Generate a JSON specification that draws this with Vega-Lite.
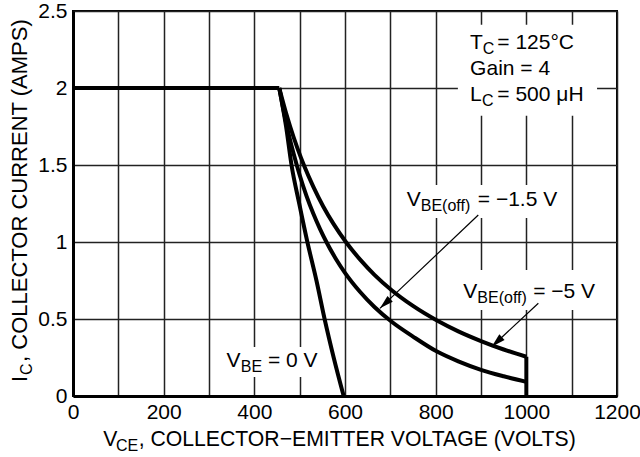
{
  "$schema": "https://vega.github.io/schema/vega-lite/v6.json",
  "width": 544,
  "height": 385,
  "autosize": "none",
  "padding": {"left": 73, "top": 11, "right": 23, "bottom": 61},
  "background": "white",
  "config": {
    "font": "Liberation Sans",
    "view": {"stroke": "black", "strokeWidth": 2},
    "axis": {
      "grid": true, "gridColor": "#222", "gridWidth": 1.5, "gridOpacity": 1,
      "domainColor": "black", "domainWidth": 3, "ticks": false,
      "labelFont": "Liberation Sans", "labelFontSize": 21, "labelColor": "black",
      "labelPadding": 5, "labelOverlap": false, "labelFlush": false, "labelBound": false
    }
  },
  "datasets": {
    "curves": [
      {"s": "limit", "v": 0, "i": 2}, {"s": "limit", "v": 455, "i": 2},
      {"s": "vbe0", "v": 455, "i": 2}, {"s": "vbe0", "v": 470, "i": 1.75}, {"s": "vbe0", "v": 482, "i": 1.5},
      {"s": "vbe0", "v": 499, "i": 1.25}, {"s": "vbe0", "v": 517, "i": 1.0}, {"s": "vbe0", "v": 537, "i": 0.75},
      {"s": "vbe0", "v": 555, "i": 0.5}, {"s": "vbe0", "v": 575, "i": 0.25}, {"s": "vbe0", "v": 597, "i": 0},
      {"s": "m15", "v": 455, "i": 2}, {"s": "m15", "v": 465, "i": 1.847}, {"s": "m15", "v": 475, "i": 1.71},
      {"s": "m15", "v": 487, "i": 1.57}, {"s": "m15", "v": 500, "i": 1.435}, {"s": "m15", "v": 515, "i": 1.3},
      {"s": "m15", "v": 530, "i": 1.185}, {"s": "m15", "v": 545, "i": 1.084}, {"s": "m15", "v": 559, "i": 1.0},
      {"s": "m15", "v": 580, "i": 0.89}, {"s": "m15", "v": 600, "i": 0.8}, {"s": "m15", "v": 633, "i": 0.677},
      {"s": "m15", "v": 665, "i": 0.578}, {"s": "m15", "v": 703, "i": 0.482}, {"s": "m15", "v": 750, "i": 0.386},
      {"s": "m15", "v": 802, "i": 0.29}, {"s": "m15", "v": 850, "i": 0.225}, {"s": "m15", "v": 900, "i": 0.17},
      {"s": "m15", "v": 950, "i": 0.128}, {"s": "m15", "v": 1000, "i": 0.092},
      {"s": "m5", "v": 455, "i": 2}, {"s": "m5", "v": 470, "i": 1.837}, {"s": "m5", "v": 479, "i": 1.75},
      {"s": "m5", "v": 495, "i": 1.61}, {"s": "m5", "v": 511, "i": 1.487}, {"s": "m5", "v": 530, "i": 1.36},
      {"s": "m5", "v": 552, "i": 1.231}, {"s": "m5", "v": 575, "i": 1.116}, {"s": "m5", "v": 602, "i": 1.0},
      {"s": "m5", "v": 633, "i": 0.887}, {"s": "m5", "v": 665, "i": 0.787}, {"s": "m5", "v": 703, "i": 0.687},
      {"s": "m5", "v": 750, "i": 0.585}, {"s": "m5", "v": 802, "i": 0.492}, {"s": "m5", "v": 850, "i": 0.42},
      {"s": "m5", "v": 900, "i": 0.357}, {"s": "m5", "v": 950, "i": 0.302}, {"s": "m5", "v": 1000, "i": 0.255}
    ],
    "edge": [{"v": 1000, "i": 0, "i2": 0.255}],
    "boxes": [
      {"v": 849, "v2": 1156, "i": 1.82, "i2": 2.41},
      {"v": 714, "v2": 1089, "i": 1.156, "i2": 1.37},
      {"v": 843, "v2": 1174, "i": 0.558, "i2": 0.818},
      {"v": 320, "v2": 565, "i": 0.123, "i2": 0.318}
    ],
    "arrows": [
      {"v": 894, "i": 1.175, "v2": 677, "i2": 0.569},
      {"v": 1026.5, "i": 0.602, "v2": 923.6, "i2": 0.32}
    ],
    "texts": [
      {"role": "main", "t": "T", "v": 876, "i": 2.251},
      {"role": "main", "t": "= 125°C", "v": 936, "i": 2.251},
      {"role": "main", "t": "Gain = 4", "v": 876, "i": 2.084},
      {"role": "main", "t": "L", "v": 876, "i": 1.9175},
      {"role": "main", "t": "= 500 μH", "v": 936, "i": 1.9175},
      {"role": "main", "t": "V", "v": 338.6, "i": 0.19},
      {"role": "main", "t": "= 0 V", "v": 430, "i": 0.19},
      {"role": "main", "t": "V", "v": 736, "i": 1.234},
      {"role": "main", "t": "= −1.5 V", "v": 893, "i": 1.234},
      {"role": "main", "t": "V", "v": 861, "i": 0.636},
      {"role": "main", "t": "= −5 V", "v": 1015, "i": 0.636},
      {"role": "sub", "t": "C", "v": 904, "i": 2.251},
      {"role": "sub", "t": "C", "v": 902, "i": 1.9175},
      {"role": "sub", "t": "BE", "v": 370, "i": 0.19},
      {"role": "sub", "t": "BE(off)", "v": 767, "i": 1.234},
      {"role": "sub", "t": "BE(off)", "v": 892, "i": 0.636},
      {"role": "xmain", "t": "V", "v": 66.8, "i": -0.325},
      {"role": "xmain", "t": ", COLLECTOR−EMITTER VOLTAGE (VOLTS)", "v": 145, "i": -0.325},
      {"role": "sub", "t": "CE", "v": 95, "i": -0.325},
      {"role": "ymain", "t": "I", "v": -102, "i": 0.091},
      {"role": "ymain", "t": ", COLLECTOR CURRENT (AMPS)", "v": -102, "i": 0.221},
      {"role": "ysub", "t": "C", "v": -102, "i": 0.136}
    ]
  },
  "layer": [
    {
      "data": {"name": "boxes"},
      "mark": {"type": "rect", "fill": "white", "stroke": null},
      "encoding": {
        "x": {"field": "v", "type": "quantitative", "title": null,
          "scale": {"domain": [0, 1200], "nice": false},
          "axis": {"values": [0, 100, 200, 300, 400, 500, 600, 700, 800, 900, 1000, 1100, 1200],
            "format": "d", "labelExpr": "datum.value % 200 === 0 ? datum.label : ''"}},
        "x2": {"field": "v2"},
        "y": {"field": "i", "type": "quantitative", "title": null,
          "scale": {"domain": [0, 2.5], "nice": false},
          "axis": {"values": [0, 0.25, 0.5, 0.75, 1, 1.25, 1.5, 1.75, 2, 2.25, 2.5],
            "format": "~g", "labelPadding": 6, "labelExpr": "datum.value % 0.5 === 0 ? datum.label : ''"}},
        "y2": {"field": "i2"}
      }
    },
    {
      "data": {"name": "curves"},
      "mark": {"type": "line", "color": "black", "strokeWidth": 4, "interpolate": "monotone", "strokeJoin": "round"},
      "encoding": {
        "x": {"field": "v", "type": "quantitative", "title": null, "scale": {"domain": [0, 1200], "nice": false}},
        "y": {"field": "i", "type": "quantitative", "title": null, "scale": {"domain": [0, 2.5], "nice": false}},
        "detail": {"field": "s"}
      }
    },
    {
      "data": {"name": "edge"},
      "mark": {"type": "rule", "color": "black", "strokeWidth": 4},
      "encoding": {
        "x": {"field": "v", "type": "quantitative", "title": null, "scale": {"domain": [0, 1200], "nice": false}},
        "y": {"field": "i", "type": "quantitative", "title": null, "scale": {"domain": [0, 2.5], "nice": false}},
        "y2": {"field": "i2"}
      }
    },
    {
      "data": {"name": "arrows"},
      "mark": {"type": "rule", "color": "black", "strokeWidth": 1.2},
      "encoding": {
        "x": {"field": "v", "type": "quantitative", "title": null, "scale": {"domain": [0, 1200], "nice": false}},
        "y": {"field": "i", "type": "quantitative", "title": null, "scale": {"domain": [0, 2.5], "nice": false}},
        "x2": {"field": "v2"},
        "y2": {"field": "i2"}
      }
    },
    {
      "data": {"name": "arrows"},
      "mark": {"type": "point", "shape": "M0,0L0.55,2L-0.55,2Z", "filled": true, "color": "black", "opacity": 1, "size": 196, "angle": 227, "strokeWidth": 0},
      "encoding": {
        "x": {"field": "v2", "type": "quantitative", "title": null, "scale": {"domain": [0, 1200], "nice": false}},
        "y": {"field": "i2", "type": "quantitative", "title": null, "scale": {"domain": [0, 2.5], "nice": false}}
      }
    },
    {
      "data": {"name": "texts"},
      "transform": [{"filter": "datum.role === 'main'"}],
      "mark": {"type": "text", "font": "Liberation Sans", "fontSize": 21, "color": "black", "align": "left", "baseline": "alphabetic"},
      "encoding": {
        "x": {"field": "v", "type": "quantitative", "title": null, "scale": {"domain": [0, 1200], "nice": false}},
        "y": {"field": "i", "type": "quantitative", "title": null, "scale": {"domain": [0, 2.5], "nice": false}},
        "text": {"field": "t"}
      }
    },
    {
      "data": {"name": "texts"},
      "transform": [{"filter": "datum.role === 'xmain'"}],
      "mark": {"type": "text", "font": "Liberation Sans", "fontSize": 21.2, "color": "black", "align": "left", "baseline": "alphabetic"},
      "encoding": {
        "x": {"field": "v", "type": "quantitative", "title": null, "scale": {"domain": [0, 1200], "nice": false}},
        "y": {"field": "i", "type": "quantitative", "title": null, "scale": {"domain": [0, 2.5], "nice": false}},
        "text": {"field": "t"}
      }
    },
    {
      "data": {"name": "texts"},
      "transform": [{"filter": "datum.role === 'sub'"}],
      "mark": {"type": "text", "font": "Liberation Sans", "fontSize": 16, "color": "black", "align": "left", "baseline": "alphabetic", "dy": 5},
      "encoding": {
        "x": {"field": "v", "type": "quantitative", "title": null, "scale": {"domain": [0, 1200], "nice": false}},
        "y": {"field": "i", "type": "quantitative", "title": null, "scale": {"domain": [0, 2.5], "nice": false}},
        "text": {"field": "t"}
      }
    },
    {
      "data": {"name": "texts"},
      "transform": [{"filter": "datum.role === 'ymain'"}],
      "mark": {"type": "text", "font": "Liberation Sans", "fontSize": 22, "color": "black", "align": "left", "baseline": "alphabetic", "angle": 270},
      "encoding": {
        "x": {"field": "v", "type": "quantitative", "title": null, "scale": {"domain": [0, 1200], "nice": false}},
        "y": {"field": "i", "type": "quantitative", "title": null, "scale": {"domain": [0, 2.5], "nice": false}},
        "text": {"field": "t"}
      }
    },
    {
      "data": {"name": "texts"},
      "transform": [{"filter": "datum.role === 'ysub'"}],
      "mark": {"type": "text", "font": "Liberation Sans", "fontSize": 16, "color": "black", "align": "left", "baseline": "alphabetic", "angle": 270, "dy": 5},
      "encoding": {
        "x": {"field": "v", "type": "quantitative", "title": null, "scale": {"domain": [0, 1200], "nice": false}},
        "y": {"field": "i", "type": "quantitative", "title": null, "scale": {"domain": [0, 2.5], "nice": false}},
        "text": {"field": "t"}
      }
    }
  ]
}
